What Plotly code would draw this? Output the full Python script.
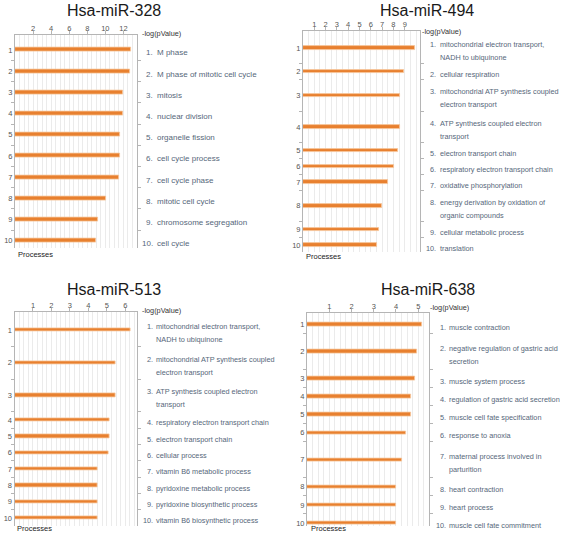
import plotly.graph_objects as go

W, H = 563, 536

# ---------------- data ----------------
titles = ["Hsa-miR-328", "Hsa-miR-494", "Hsa-miR-513", "Hsa-miR-638"]

labels_328 = ["M phase", "M phase of mitotic cell cycle", "mitosis", "nuclear division",
              "organelle fission", "cell cycle process", "cell cycle phase",
              "mitotic cell cycle", "chromosome segregation", "cell cycle"]
values_328 = [12.85, 12.67, 12.0, 12.0, 11.63, 11.6, 11.48, 10.1, 9.22, 8.93]
ticks_328 = [2, 4, 6, 8, 10, 12]

labels_494 = ["mitochondrial electron transport,<br>NADH to ubiquinone",
              "cellular respiration",
              "mitochondrial ATP synthesis coupled<br>electron transport",
              "ATP synthesis coupled electron<br>transport",
              "electron transport chain",
              "respiratory electron transport chain",
              "oxidative phosphorylation",
              "energy derivation by oxidation of<br>organic compounds",
              "cellular metabolic process",
              "translation"]
values_494 = [9.91, 8.91, 8.56, 8.56, 8.43, 8.05, 7.52, 6.96, 6.73, 6.55]
ticks_494 = [1, 2, 3, 4, 5, 6, 7, 8, 9]

labels_513 = ["mitochondrial electron transport,<br>NADH to ubiquinone",
              "mitochondrial ATP synthesis coupled<br>electron transport",
              "ATP synthesis coupled electron<br>transport",
              "respiratory electron transport chain",
              "electron transport chain",
              "cellular process",
              "vitamin B6 metabolic process",
              "pyridoxine metabolic process",
              "pyridoxine biosynthetic process",
              "vitamin B6 biosynthetic process"]
values_513 = [6.30, 5.46, 5.46, 5.16, 5.12, 5.07, 4.51, 4.51, 4.51, 4.51]
ticks_513 = [1, 2, 3, 4, 5, 6]

labels_638 = ["muscle contraction",
              "negative regulation of gastric acid<br>secretion",
              "muscle system process",
              "regulation of gastric acid secretion",
              "muscle cell fate specification",
              "response to anoxia",
              "maternal process involved in<br>parturition",
              "heart contraction",
              "heart process",
              "muscle cell fate commitment"]
values_638 = [5.18, 4.96, 4.87, 4.66, 4.66, 4.45, 4.26, 4.01, 4.01, 4.0]
ticks_638 = [1, 2, 3, 4, 5]

x_title = "-log(pValue)"
y_title = "Processes"

# ---------------- layout / style ----------------
FONT = "Liberation Sans, Arial, Helvetica"
BAR = "#e8802f"
BAR_EDGE = "#f6c79d"
LABEL_COL = "#56677a"
AXIS_COL = "#b5b5b5"
GRID_COL = "#ebebeb"

panels = [
    dict(title=titles[0], labels=labels_328, values=values_328, ticks=ticks_328,
         box=(15, 137, 34.5, 248), xmax=13.5, yr=(-0.23, 9.84), minor=0.5, bar_px=4,
         xn=154.3, xt=156, tpos=(114, 10), xl=(140.5, 33.5), pl=(16.5, 254), fs=8),
    dict(title=titles[1], labels=labels_494, values=values_494, ticks=ticks_494,
         box=(303, 420.3, 31, 252), xmax=10.38, yr=(-0.08, 13.93), minor=0.5, bar_px=3.5,
         xn=437, xt=438.7, tpos=(427, 10), xl=(420.5, 31), pl=(304.5, 256), fs=7.3),
    dict(title=titles[2], labels=labels_513, values=values_513, ticks=ticks_513,
         box=(14.5, 136.7, 312.3, 526), xmax=6.62, yr=(-0.08, 12.99), minor=0.25, bar_px=3.5,
         xn=153.6, xt=155, tpos=(114, 289), xl=(140.5, 310), pl=(15.5, 528.5), fs=7.3),
    dict(title=titles[3], labels=labels_638, values=values_638, ticks=ticks_638,
         box=(307, 428.7, 312.5, 526), xmax=5.47, yr=(-0.17, 11.67), minor=0.25, bar_px=3.5,
         xn=446.7, xt=448, tpos=(428, 289), xl=(428.5, 307.5), pl=(310, 528.5), fs=7.3),
]

LINE_H = 13.0
LABEL_SHIFT = -3

fig = go.Figure()
annotations = []
layout = {}

for k, p in enumerate(panels, start=1):
    sfx = "" if k == 1 else str(k)
    x0, x1, y0, y1 = p["box"]
    ytop, ybot = p["yr"]
    u = (y1 - y0) / (ybot - ytop)  # px per line unit

    nlines = [lab.count("<br>") + 1 for lab in p["labels"]]
    bounds = [0]
    for n in nlines:
        bounds.append(bounds[-1] + n)
    centers = [(bounds[i] + bounds[i + 1]) / 2 for i in range(len(nlines))]

    fig.add_trace(go.Bar(
        x=p["values"], y=centers, orientation="h", width=p["bar_px"] / u,
        marker=dict(color=BAR, line=dict(color=BAR_EDGE, width=0.8)),
        xaxis="x" + sfx, yaxis="y" + sfx, showlegend=False, hoverinfo="x"))

    layout["xaxis" + sfx] = dict(
        domain=[x0 / W, x1 / W], range=[0, p["xmax"]], side="top", anchor="y" + sfx,
        automargin=False,
        tickmode="array", tickvals=p["ticks"], ticks="outside", ticklen=3,
        ticklabelstandoff=-3,
        tickcolor=AXIS_COL, showline=True, linecolor=AXIS_COL, linewidth=1,
        showgrid=True, gridcolor=GRID_COL, gridwidth=1, zeroline=False,
        minor=dict(dtick=p["minor"], tick0=0, showgrid=True, gridcolor=GRID_COL, ticks=""),
        tickfont=dict(family=FONT, size=7.5, color="#555555"), fixedrange=True)

    layout["yaxis" + sfx] = dict(
        domain=[1 - y1 / H, 1 - y0 / H], range=[ybot, ytop], anchor="x" + sfx,
        automargin=False,
        tickmode="array", tickvals=centers, ticktext=[str(i + 1) for i in range(len(centers))],
        ticks="", showline=True, linecolor=AXIS_COL, linewidth=1, mirror="ticks",
        showgrid=False, zeroline=False,
        minor=dict(tickmode="array", tickvals=bounds[1:-1], ticks="outside", ticklen=3,
                   tickcolor=AXIS_COL, showgrid=False),
        tickfont=dict(family=FONT, size=7.5, color="#555555"), fixedrange=True)

    # right-hand process labels (one annotation per text line)
    for i, (lab, n, c) in enumerate(zip(p["labels"], nlines, centers)):
        lines = lab.split("<br>")
        top_shift = LABEL_SHIFT + (n - 1) * LINE_H / 2
        annotations.append(dict(
            x=p["xn"] / W, xref="paper", y=c, yref="y" + sfx, text=f"{i + 1}.",
            xanchor="right", yanchor="middle", showarrow=False, borderpad=0,
            yshift=top_shift,
            font=dict(family=FONT, size=p["fs"], color=LABEL_COL)))
        for j, line in enumerate(lines):
            annotations.append(dict(
                x=p["xt"] / W, xref="paper", y=c, yref="y" + sfx, text=line,
                xanchor="left", yanchor="middle", showarrow=False, borderpad=0,
                yshift=top_shift - j * LINE_H,
                font=dict(family=FONT, size=p["fs"], color=LABEL_COL)))

    # title
    annotations.append(dict(
        x=p["tpos"][0] / W, y=1 - p["tpos"][1] / H, xref="paper", yref="paper",
        text=p["title"], showarrow=False, xanchor="center", yanchor="middle",
        font=dict(family=FONT, size=16, color="#1a1a1a")))
    # axis labels
    annotations.append(dict(
        x=p["xl"][0] / W, y=1 - p["xl"][1] / H, xref="paper", yref="paper",
        text=x_title, showarrow=False, xanchor="left", yanchor="middle", borderpad=0,
        font=dict(family=FONT, size=7.3, color="#333333")))
    annotations.append(dict(
        x=p["pl"][0] / W, y=1 - p["pl"][1] / H, xref="paper", yref="paper",
        text=y_title, showarrow=False, xanchor="left", yanchor="middle", borderpad=0,
        font=dict(family=FONT, size=7.5, color="#222222")))

fig.update_layout(
    width=W, height=H, margin=dict(l=0, r=0, t=0, b=0, autoexpand=False),
    paper_bgcolor="white", plot_bgcolor="white",
    annotations=annotations, bargap=0, **layout)

fig.write_html(
    "out.html",
    config={"displayModeBar": False},
    post_script="document.body.style.margin='0px';document.body.style.overflow='hidden';",
)
